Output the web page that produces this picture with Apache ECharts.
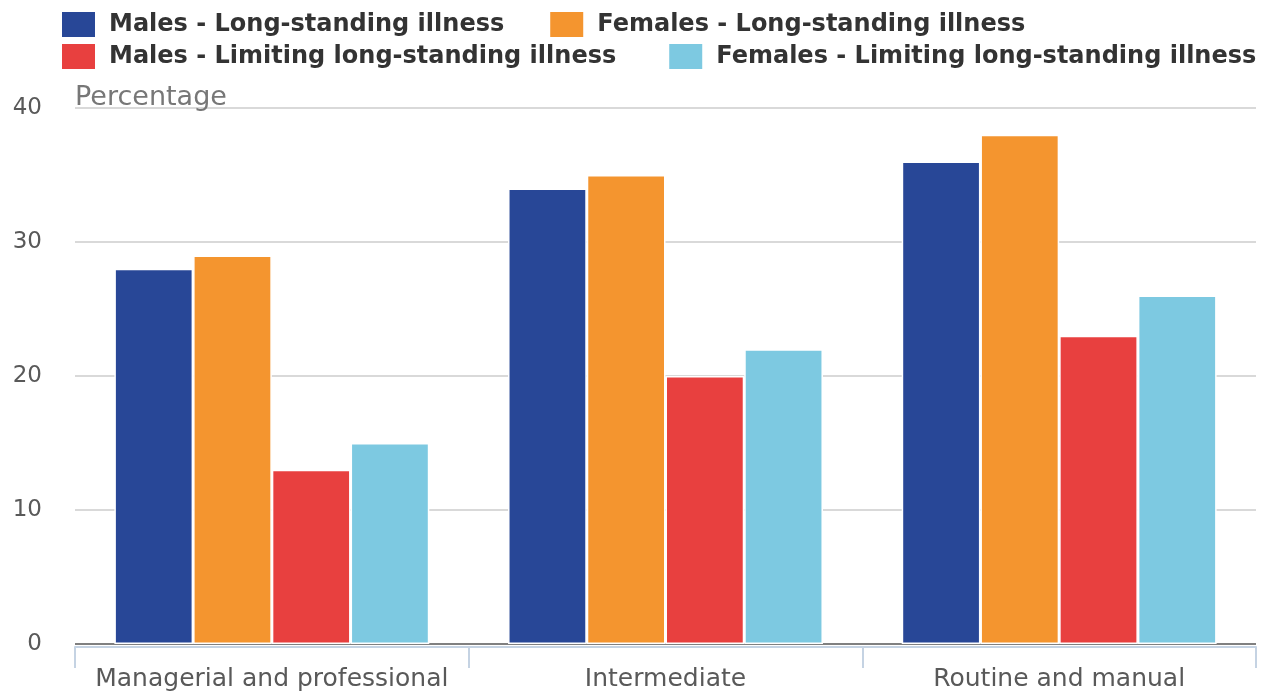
<!DOCTYPE html>
<html>
<head>
<meta charset="utf-8">
<script src="https://cdn.jsdelivr.net/npm/echarts@6/dist/echarts.min.js"></script>
<style>
  html, body { margin: 0; padding: 0; background: #ffffff; }
  #chart { width: 1265px; height: 693px; }
</style>
</head>
<body>
<div id="chart"></div>
<script>
// Long-standing illness by socio-economic class (percentage)
const categories = ['Managerial and professional', 'Intermediate', 'Routine and manual'];
const seriesNames = [
  'Males - Long-standing illness',
  'Females - Long-standing illness',
  'Males - Limiting long-standing illness',
  'Females - Limiting long-standing illness'
];
const malesLongStanding = [28, 34, 36];
const femalesLongStanding = [29, 35, 38];
const malesLimiting = [13, 20, 23];
const femalesLimiting = [15, 22, 26];
const yTicks = [0, 10, 20, 30, 40];

const colors = ['#284797', '#f4952f', '#e8403f', '#7dc9e1'];
const values = [malesLongStanding, femalesLongStanding, malesLimiting, femalesLimiting];
const fontFamily = 'DejaVu Sans';

const legendBase = {
  orient: 'horizontal',
  left: 60,
  padding: 0,
  itemWidth: 35,
  itemHeight: 27,
  icon: 'rect',
  selectedMode: false,
  textStyle: {
    fontFamily: fontFamily,
    fontWeight: 'bold',
    fontSize: 24,
    color: '#333333',
    lineHeight: 27,
    padding: [0, 0, 0, 8]
  }
};

const chart = echarts.init(document.getElementById('chart'), null, { renderer: 'canvas' });

chart.setOption({
  animation: false,
  color: colors,
  textStyle: { fontFamily: fontFamily },
  legend: [
    Object.assign({}, legendBase, { top: 10, itemGap: 44, data: [seriesNames[0], seriesNames[1]] }),
    Object.assign({}, legendBase, { top: 42, itemGap: 51, data: [seriesNames[2], seriesNames[3]] })
  ],
  grid: [
    // plotting area
    { left: 75, right: 9, top: 108, bottom: 49, containLabel: false },
    // category baseline with ticks and labels, sitting just under the zero line
    { left: 75, right: 9, top: 108, bottom: 46, containLabel: false }
  ],
  xAxis: [
    {
      type: 'category',
      gridIndex: 0,
      data: categories,
      axisLine: { show: false },
      axisTick: { show: false },
      axisLabel: { show: false },
      splitLine: { show: false }
    },
    {
      type: 'category',
      gridIndex: 1,
      data: categories,
      axisLine: { show: true, lineStyle: { color: '#c5d3e3', width: 2 } },
      axisTick: { show: true, interval: 0, length: 21, lineStyle: { color: '#c5d3e3', width: 2 } },
      axisLabel: {
        interval: 0,
        fontFamily: fontFamily,
        fontSize: 25,
        color: '#595959',
        margin: 20
      },
      splitLine: { show: false }
    }
  ],
  yAxis: [
    {
      type: 'value',
      gridIndex: 0,
      min: yTicks[0],
      max: yTicks[yTicks.length - 1],
      interval: 10,
      name: 'Percentage',
      nameLocation: 'end',
      nameGap: 10,
      nameTextStyle: {
        fontFamily: fontFamily,
        fontSize: 27,
        color: '#777777',
        align: 'left',
        verticalAlign: 'middle'
      },
      axisLine: { show: false },
      axisTick: { show: false },
      axisLabel: {
        fontFamily: fontFamily,
        fontSize: 23,
        color: '#595959',
        margin: 33
      },
      splitLine: {
        show: true,
        lineStyle: {
          color: ['#808080', '#d9d9d9', '#d9d9d9', '#d9d9d9', '#d9d9d9'],
          width: 2
        }
      }
    },
    {
      type: 'value',
      gridIndex: 1,
      min: yTicks[0],
      max: yTicks[yTicks.length - 1],
      interval: 10,
      show: false
    }
  ],
  series: seriesNames.map((name, i) => ({
    name: name,
    type: 'bar',
    xAxisIndex: 0,
    yAxisIndex: 0,
    data: values[i],
    barGap: '0%',
    barCategoryGap: '20%',
    itemStyle: {
      color: colors[i],
      borderColor: '#ffffff',
      borderWidth: 1.5
    }
  }))
});
</script>
</body>
</html>
